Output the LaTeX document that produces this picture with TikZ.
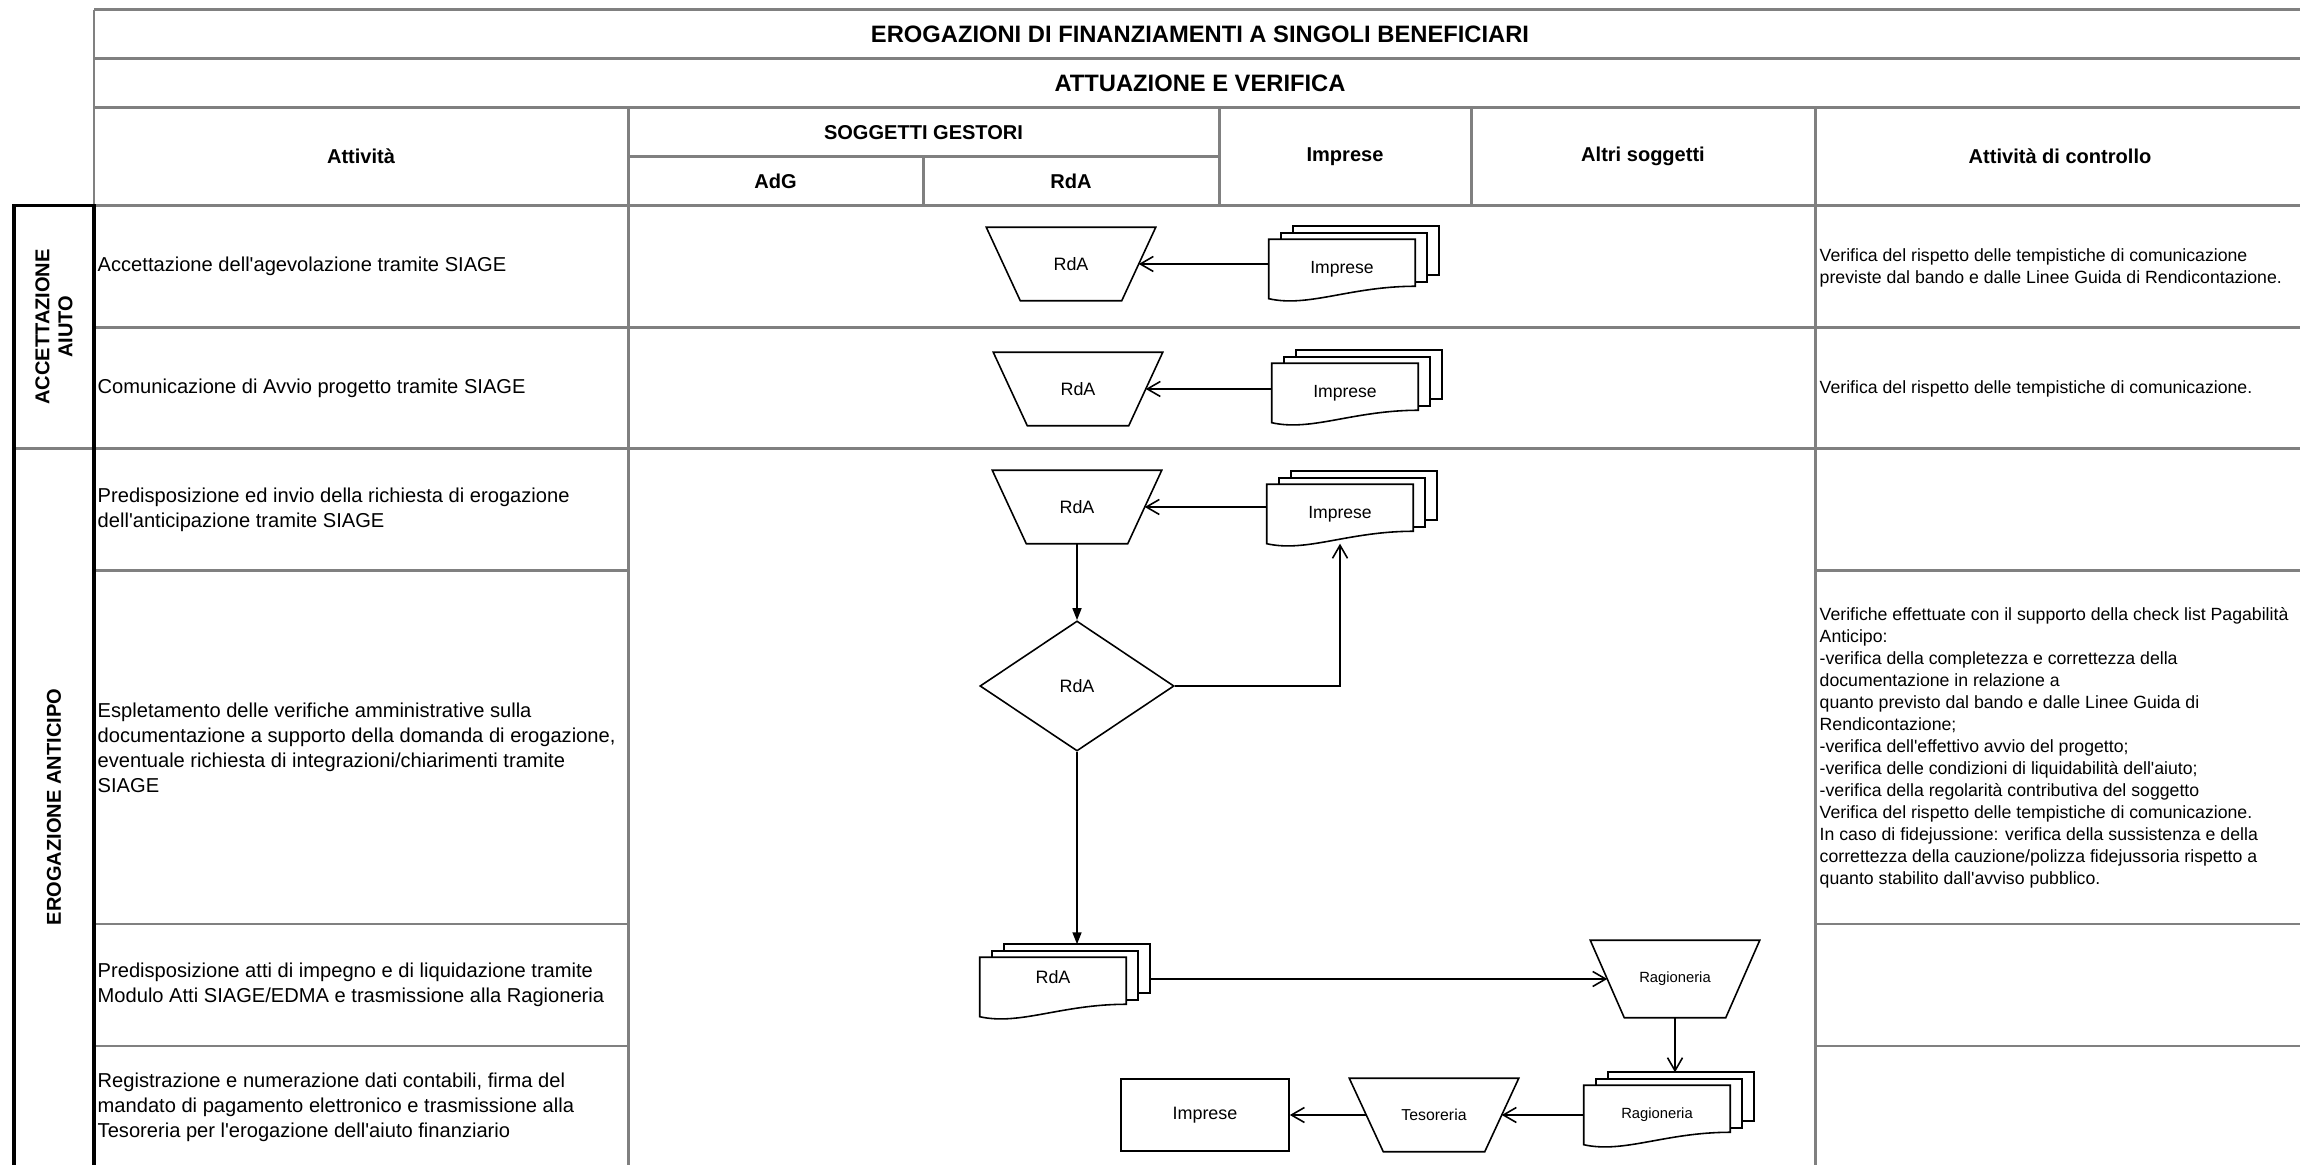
\documentclass[tikz,border=0pt]{standalone}
\usepackage{fontspec}
\setmainfont{Liberation Sans}[Ligatures=TeXOff]
\usetikzlibrary{shapes.geometric,arrows.meta,calc,backgrounds}

\definecolor{rulegray}{RGB}{128,128,128}
\newcommand\fsz[2]{\fontsize{#1pt}{#2pt}\selectfont}

% stack of three sheets behind a document node (front sheet has a wavy foot)
\newcommand\docstack[1]{%
  \begin{scope}[on background layer]
    \draw[shapeline, fill=white] ($(#1.north west)+(24,-13)$) rectangle ($(#1.north east)+(24,36)$);
    \draw[shapeline, fill=white] ($(#1.north west)+(12,-6.5)$) rectangle ($(#1.north east)+(12,42.5)$);
    \draw[shapeline, fill=white] (#1.north west) -- (#1.north east) -- ($(#1.north east)+(0,47)$)
      .. controls ($(#1.north east)+(-65,47)$) and ($(#1.south west)+(40,9)$) .. (#1.south west) -- cycle;
  \end{scope}
  \coordinate (#1-t) at ($(#1.north)+(24,-13)$);
  \coordinate (#1-r) at ($(#1.north east)+(24,0)$);
}

% manual-operation outline: wide top, narrow bottom, the node box at mid width
\newcommand\manualshape[1]{%
  \draw[shapeline] ($(#1.north west)+(-17,0)$) -- ($(#1.north east)+(17,0)$)
    -- ($(#1.south east)+(-17,0)$) -- ($(#1.south west)+(17,0)$) -- cycle;
}

\tikzset{
  tabline/.style={draw=rulegray, line width=0.85pt},
  boxline/.style={draw=black, line width=1pt},
  shapeline/.style={draw=black, line width=0.45pt},
  title/.style={font={\fsz{6.75}{8}\bfseries}, inner sep=0pt},
  hdr/.style={font={\fsz{5.7}{7}\bfseries}, inner sep=0pt},
  phase/.style={font={\fsz{5.7}{6.5}\bfseries}, inner sep=0pt, rotate=90, align=center},
  activity/.style={font={\fsz{5.72}{7.1}}, inner sep=0pt, anchor=west, align=left},
  check/.style={font={\fsz{5.03}{6.25}}, inner sep=0pt, anchor=west, align=left},
  manual/.style={rectangle, minimum width=1.34cm, minimum height=0.72cm, inner sep=0pt,
    font={\fsz{5.1}{6}}},
  decision/.style={shapeline, diamond, minimum width=1.94cm, minimum height=1.30cm,
    inner sep=0pt, font={\fsz{5.1}{6}}},
  docnode/.style={rectangle, minimum width=1.45cm, minimum height=0.58cm, inner sep=0pt,
    font={\fsz{5.0}{6}}},
  procbox/.style={shapeline, rectangle, minimum width=1.68cm, minimum height=0.72cm,
    inner sep=0pt, font={\fsz{5.1}{6}}},
  flow/.style={shapeline, -{Straight Barb[length=1.3mm,width=1.5mm]}},
  flowfill/.style={shapeline, -{Triangle[length=1.2mm,width=0.9mm]}},
}

\begin{document}
\begin{tikzpicture}[x=0.01cm, y=-0.01cm]
\useasboundingbox (0,0) rectangle (2300,1165);
\begin{scope}[on background layer]
  \fill[white] (0,0) rectangle (2300,1165);
\end{scope}
\clip (0,0) rectangle (2300,1165);

% ---- table rules ----
\foreach \y in {10,59,108,205.5,328,449}
  \draw[tabline] (94,\y) -- (2310,\y);
\draw[tabline] (628,157) -- (1219,157);
\foreach \y in {571,924,1046} {
  \draw[tabline] (94,\y) -- (628,\y);
  \draw[tabline] (1815,\y) -- (2310,\y);
}
\draw[tabline] (94,10) -- (94,1175);
\draw[tabline] (628,108) -- (628,1175);
\draw[tabline] (923,157) -- (923,205.5);
\draw[tabline] (1219,108) -- (1219,205.5);
\draw[tabline] (1471,108) -- (1471,205.5);
\draw[tabline] (1815,108) -- (1815,1175);

% ---- phase column ----
\draw[tabline] (14,449) -- (94,449);
\draw[boxline] (14,1175) -- (14,205.5) -- (94,205.5) -- (94,1175);
\node[phase] (ph1) at (54,327) {ACCETTAZIONE\\AIUTO};
\node[phase] (ph2) at (54,807) {EROGAZIONE ANTICIPO};

% ---- headings ----
\node[title] (t1) at (1200,34.5) {EROGAZIONI DI FINANZIAMENTI A SINGOLI BENEFICIARI};
\node[title] (t2) at (1200,83.5) {ATTUAZIONE E VERIFICA};
\node[hdr] (hAtt) at (361,156.5) {Attività};
\node[hdr] (hSog) at (923.5,132.5) {SOGGETTI GESTORI};
\node[hdr] (hAdG) at (775.5,181) {AdG};
\node[hdr] (hRdA) at (1071,181) {RdA};
\node[hdr] (hImp) at (1345,156.5) {Imprese};
\node[hdr] (hAltri) at (1643,156.5) {Altri soggetti};
\node[hdr] (hCtrl) at (2060,156.5) {Attività di controllo};

% ---- activities ----
\node[activity] (a1) at (97,266.75) {Accettazione dell'agevolazione tramite SIAGE};
\node[activity] (a2) at (97,388.5) {Comunicazione di Avvio progetto tramite SIAGE};
\node[activity] (a3) at (97,510) {Predisposizione ed invio della richiesta di erogazione\\dell'anticipazione tramite SIAGE};
\node[activity] (a4) at (97,748) {Espletamento delle verifiche amministrative sulla\\documentazione a supporto della domanda di erogazione,\\eventuale richiesta di integrazioni/chiarimenti tramite\\SIAGE};
\node[activity] (a5) at (97,985) {Predisposizione atti di impegno e di liquidazione tramite\\Modulo Atti SIAGE/EDMA e trasmissione alla Ragioneria};
\node[activity] (a6) at (97,1107) {Registrazione e numerazione dati contabili, firma del\\mandato di pagamento elettronico e trasmissione alla\\Tesoreria per l'erogazione dell'aiuto finanziario};

% ---- control activities ----
\node[check] (c1) at (1819,268) {Verifica del rispetto delle tempistiche di comunicazione\\previste dal bando e dalle Linee Guida di Rendicontazione.};
\node[check] (c2) at (1819,389) {Verifica del rispetto delle tempistiche di comunicazione.};
\node[check] (c4) at (1819,748) {Verifiche effettuate con il supporto della check list Pagabilità\\Anticipo:\\-verifica della completezza e correttezza della\\documentazione in relazione a\\quanto previsto dal bando e dalle Linee Guida di\\Rendicontazione;\\-verifica dell'effettivo avvio del progetto;\\-verifica delle condizioni di liquidabilità dell'aiuto;\\-verifica della regolarità contributiva del soggetto\\Verifica del rispetto delle tempistiche di comunicazione.\\In caso di fidejussione: verifica della sussistenza e della\\correttezza della cauzione/polizza fidejussoria rispetto a\\quanto stabilito dall'avviso pubblico.};

% ---- flow ----
\node[manual] (rda1) at (1071,264) {RdA};
\node[docnode] (imp1) at (1342,269) {Imprese};
\node[manual] (rda2) at (1078,389) {RdA};
\node[docnode] (imp2) at (1345,393) {Imprese};
\node[manual] (rda3) at (1077,507) {RdA};
\node[docnode] (imp3) at (1340,514) {Imprese};
\node[decision] (dia) at (1077,686) {RdA};
\node[docnode, font={\fsz{5.1}{6}}] (rdadoc) at (1053,987) {\raisebox{0.2cm}{RdA}};
\node[manual, minimum height=0.76cm, font={\fsz{4.2}{5}}] (rag1) at (1675,979) {Ragioneria};
\node[docnode, font={\fsz{4.2}{5}}] (ragdoc) at (1657,1115) {Ragioneria};
\node[manual, font={\fsz{4.5}{5}}] (teso) at (1434,1115) {Tesoreria};
\node[procbox] (impR) at (1205,1115) {Imprese};

\manualshape{rda1}
\manualshape{rda2}
\manualshape{rda3}
\manualshape{rag1}
\manualshape{teso}

\docstack{imp1}
\docstack{imp2}
\docstack{imp3}
\docstack{rdadoc}
\docstack{ragdoc}

\draw[flow] (imp1.west |- rda1) -- (rda1);
\draw[flow] (imp2.west |- rda2) -- (rda2);
\draw[flow] (imp3.west |- rda3) -- (rda3);
\draw[flowfill] (rda3) -- (dia);
\draw[flow] (dia.east) -| (imp3.south);
\draw[flowfill] (dia.south) -- (dia.south |- rdadoc-t);
\draw[flow] (rdadoc-r |- rag1) -- (rag1);
\draw[flow] (rag1) -- (rag1 |- ragdoc-t);
\draw[flow] (ragdoc.west |- teso) -- (teso);
\draw[flow] (teso) -- (impR);
\end{tikzpicture}
\end{document}
